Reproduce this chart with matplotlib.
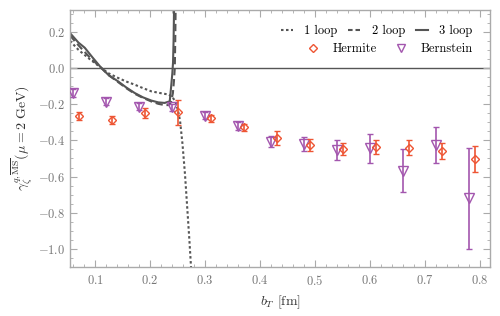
import numpy as np
import matplotlib
matplotlib.use("Agg")
import matplotlib.pyplot as plt
from matplotlib.lines import Line2D
from matplotlib.ticker import MultipleLocator

plt.rcParams['font.family'] = 'serif'
plt.rcParams['font.serif'] = ['cmr10']
plt.rcParams['mathtext.fontset'] = 'cm'
plt.rcParams['axes.formatter.use_mathtext'] = True

# perturbative curves
b_1loop = [0.0545, 0.07, 0.09, 0.1115, 0.125, 0.142, 0.157, 0.172, 0.187, 0.2024, 0.2175,
           0.2327, 0.240, 0.246, 0.2505, 0.2545, 0.259, 0.2636, 0.268, 0.2715, 0.2745]
g_1loop = [0.15, 0.10, 0.05, 0.0, -0.03, -0.055, -0.075, -0.092, -0.111, -0.129, -0.138,
           -0.146, -0.158, -0.185, -0.23, -0.29, -0.42, -0.59, -0.79, -0.95, -1.10]

b_2loop = [0.0545, 0.07, 0.09, 0.1115, 0.125, 0.142, 0.157, 0.172, 0.187, 0.2024, 0.215,
           0.2266, 0.234, 0.238, 0.2415, 0.2435, 0.2450, 0.2458, 0.2465]
g_2loop = [0.18, 0.125, 0.06, 0.0, -0.04, -0.078, -0.112, -0.142, -0.165, -0.185, -0.198,
           -0.205, -0.205, -0.19, -0.14, -0.07, 0.0, 0.15, 0.32]

b_3loop = [0.0545, 0.07, 0.0813, 0.095, 0.1115, 0.125, 0.142, 0.157, 0.172, 0.187, 0.2024,
           0.215, 0.2266, 0.2358, 0.2387, 0.2405, 0.2418, 0.2428, 0.2436]
g_3loop = [0.193, 0.14, 0.112, 0.06, 0.0, -0.04, -0.074, -0.108, -0.138, -0.162, -0.18,
           -0.19, -0.193, -0.184, -0.092, -0.03, 0.03, 0.15, 0.32]

# lattice results
herm_b = [0.07, 0.13, 0.19, 0.25, 0.31, 0.37, 0.43, 0.49, 0.55, 0.61, 0.67, 0.73, 0.79]
herm_g = [-0.265, -0.287, -0.25, -0.245, -0.278, -0.328, -0.385, -0.425, -0.448, -0.438,
          -0.44, -0.457, -0.503]
herm_err = [0.02, 0.02, 0.028, 0.068, 0.02, 0.02, 0.039, 0.035, 0.034, 0.039, 0.04, 0.044, 0.074]

bern_b = [0.06, 0.12, 0.18, 0.24, 0.30, 0.36, 0.42, 0.48, 0.54, 0.60, 0.66, 0.72, 0.78]
bern_g = [-0.138, -0.186, -0.214, -0.217, -0.263, -0.319, -0.407, -0.42, -0.453, -0.444,
          -0.567, -0.425, -0.72]
bern_err = [0.022, 0.02, 0.02, 0.02, 0.02, 0.022, 0.03, 0.039, 0.055, 0.08, 0.12, 0.1, 0.28]

curve_col = '#555555'
herm_col = '#EE5533'
bern_col = '#A356AE'
frame_col = '#AAAAAA'
tick_col = '#777777'

fig = plt.figure(figsize=(5, 3.16), dpi=100)
ax = fig.add_axes([0.14, 0.155, 0.84, 0.813])

ax.axhline(0, color='#555555', lw=1.0, zorder=1)

ax.plot(b_1loop, g_1loop, color=curve_col, lw=1.5, ls=(0, (1.2, 1.2)))
ax.plot(b_2loop, g_2loop, color=curve_col, lw=1.5, ls=(0, (3.5, 1.8)))
ax.plot(b_3loop, g_3loop, color=curve_col, lw=1.5, ls='-')

ax.errorbar(bern_b, bern_g, yerr=bern_err, fmt='v', ms=7, mfc='none', mec=bern_col,
            mew=1.0, ecolor=bern_col, elinewidth=1.2, capsize=2.2, capthick=1.2, zorder=3)
ax.errorbar(herm_b, herm_g, yerr=herm_err, fmt='D', ms=4.5, mfc='none', mec=herm_col,
            mew=1.0, ecolor=herm_col, elinewidth=1.2, capsize=2.2, capthick=1.2, zorder=4)

ax.set_xlim(0.0545, 0.818)
ax.set_ylim(-1.10, 0.32)

ax.xaxis.set_major_locator(MultipleLocator(0.1))
ax.xaxis.set_minor_locator(MultipleLocator(0.02))
ax.yaxis.set_major_locator(MultipleLocator(0.2))
ax.yaxis.set_minor_locator(MultipleLocator(0.05))
fmt = plt.FuncFormatter(lambda v, p: "$%.1f$" % (0.0 if abs(v) < 1e-9 else v))
ax.xaxis.set_major_formatter(fmt)
ax.yaxis.set_major_formatter(fmt)

for s in ax.spines.values():
    s.set_color(frame_col)
    s.set_linewidth(1.0)
ax.tick_params(which='both', direction='in', top=True, right=True, color=frame_col,
               labelcolor=tick_col, labelsize=9)
ax.tick_params(which='major', length=5, width=0.8)
ax.tick_params(which='minor', length=2.5, width=0.6)
ax.tick_params(axis='x', pad=5)

ax.set_xlabel(r'$b_T$ [fm]', fontsize=10, color='#333333')
ax.set_ylabel(r'$\gamma_\zeta^{q,\overline{\mathrm{MS}}}(\mu = 2\ \mathrm{GeV})$',
              fontsize=10, color='#333333', labelpad=2)

h1 = [Line2D([], [], color=curve_col, lw=1.5, ls=(0, (1.2, 1.2))),
      Line2D([], [], color=curve_col, lw=1.5, ls=(0, (2.2, 1.4))),
      Line2D([], [], color=curve_col, lw=1.5, ls='-')]
leg1 = ax.legend(h1, ['1 loop', '2 loop', '3 loop'], ncol=3, loc='upper right',
                 bbox_to_anchor=(0.985, 0.985), frameon=False, fontsize=9,
                 handlelength=0.95, columnspacing=0.9, handletextpad=0.9)
ax.add_artist(leg1)
h2 = [Line2D([], [], marker='D', ms=4.5, mfc='none', mec=herm_col, ls='none'),
      Line2D([], [], marker='v', ms=6, mfc='none', mec=bern_col, ls='none')]
ax.legend(h2, ['Hermite', 'Bernstein'], ncol=2, loc='upper right',
          bbox_to_anchor=(0.985, 0.915), frameon=False, fontsize=9,
          handlelength=0.9, columnspacing=1.5, handletextpad=1.1)

fig.savefig('out.png', dpi=100)
